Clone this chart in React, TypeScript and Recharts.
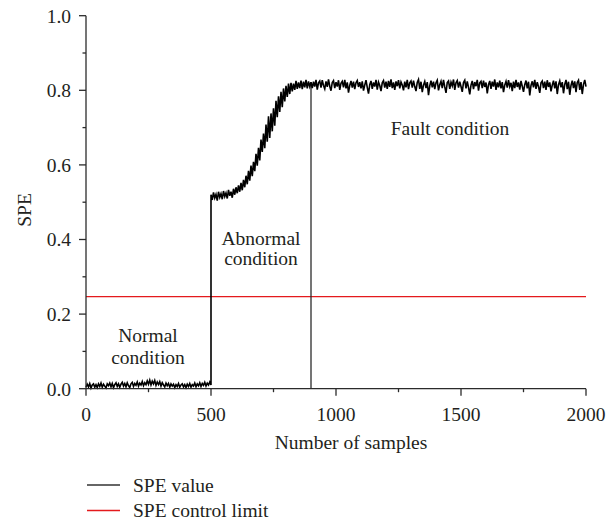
import { LineChart, Line, XAxis, YAxis, ReferenceLine, ReferenceDot } from "recharts";

// SPE readings every 5 samples
const normalSpe = [
  0.004, 0.012, 0.005, 0.014, 0.002, 0.010, 0.013, 0.004, 0.011, 0.003,
  0.013, 0.006, 0.015, 0.004, 0.012, 0.007, 0.002, 0.013, 0.008, 0.015,
  0.005, 0.014, 0.003, 0.011, 0.016, 0.006, 0.013, 0.004, 0.012, 0.017,
  0.007, 0.014, 0.005, 0.016, 0.008, 0.003, 0.013, 0.017, 0.006, 0.014,
  0.009, 0.018, 0.007, 0.015, 0.010, 0.019, 0.008, 0.016, 0.011, 0.021,
  0.012, 0.023, 0.010, 0.020, 0.013, 0.022, 0.009, 0.018, 0.011, 0.019,
  0.007, 0.016, 0.010, 0.005, 0.015, 0.008, 0.014, 0.004, 0.013, 0.007,
  0.012, 0.003, 0.011, 0.006, 0.014, 0.004, 0.010, 0.013, 0.005, 0.011,
  0.003, 0.012, 0.006, 0.014, 0.004, 0.011, 0.007, 0.015, 0.005, 0.013,
  0.008, 0.016, 0.006, 0.014, 0.009, 0.017, 0.007, 0.015, 0.010, 0.018,
  0.010,
]; // samples 0..500
const abnormalSpe = [
  0.52, 0.506, 0.526, 0.511, 0.521, 0.504, 0.528, 0.513, 0.523, 0.508,
  0.53, 0.515, 0.525, 0.51, 0.533, 0.517, 0.528, 0.512, 0.536, 0.52,
  0.54, 0.524, 0.545, 0.528, 0.552, 0.532, 0.56, 0.54, 0.571, 0.548,
  0.584, 0.558, 0.598, 0.57, 0.608, 0.583, 0.63, 0.598, 0.646, 0.612,
  0.668, 0.635, 0.684, 0.645, 0.708, 0.662, 0.73, 0.672, 0.738, 0.69,
  0.752, 0.705, 0.772, 0.728, 0.784, 0.742, 0.796, 0.755, 0.805, 0.77,
  0.812, 0.782, 0.818, 0.79, 0.82, 0.797, 0.818, 0.801, 0.825, 0.804,
  0.821, 0.806, 0.826, 0.803, 0.823, 0.808, 0.828, 0.805, 0.824, 0.81,
  0.822,
]; // samples 500..900
const faultSpe = [
  0.806, 0.823, 0.81, 0.828, 0.802, 0.82, 0.825, 0.807, 0.827, 0.813,
  0.804, 0.824, 0.809, 0.829, 0.811, 0.799, 0.821, 0.826, 0.806, 0.822,
  0.81, 0.827, 0.801, 0.819, 0.824, 0.808, 0.828, 0.805, 0.821, 0.794,
  0.813, 0.825, 0.807, 0.823, 0.803, 0.82, 0.826, 0.809, 0.822, 0.805,
  0.824, 0.799, 0.814, 0.827, 0.808, 0.791, 0.815, 0.825, 0.804, 0.821,
  0.81, 0.828, 0.802, 0.822, 0.813, 0.798, 0.82, 0.826, 0.807, 0.823,
  0.804, 0.825, 0.809, 0.829, 0.806, 0.821, 0.801, 0.824, 0.811, 0.827,
  0.805, 0.822, 0.814, 0.8, 0.823, 0.808, 0.828, 0.803, 0.82, 0.825,
  0.807, 0.826, 0.81, 0.798, 0.821, 0.829, 0.804, 0.823, 0.795, 0.814,
  0.824, 0.806, 0.822, 0.787, 0.812, 0.826, 0.808, 0.823, 0.803, 0.82,
  0.827, 0.8, 0.815, 0.824, 0.806, 0.828, 0.809, 0.793, 0.821, 0.825,
  0.804, 0.822, 0.812, 0.829, 0.801, 0.82, 0.826, 0.807, 0.823, 0.81,
  0.796, 0.821, 0.827, 0.805, 0.824, 0.808, 0.789, 0.814, 0.825, 0.803,
  0.822, 0.811, 0.828, 0.799, 0.82, 0.824, 0.806, 0.826, 0.809, 0.821,
  0.792, 0.815, 0.825, 0.804, 0.823, 0.81, 0.829, 0.801, 0.821, 0.808,
  0.826, 0.805, 0.822, 0.795, 0.814, 0.824, 0.807, 0.827, 0.81, 0.82,
  0.798, 0.823, 0.806, 0.828, 0.809, 0.821, 0.802, 0.825, 0.811, 0.796,
  0.815, 0.826, 0.805, 0.823, 0.786, 0.813, 0.824, 0.808, 0.828, 0.804,
  0.822, 0.81, 0.793, 0.82, 0.825, 0.806, 0.823, 0.801, 0.827, 0.809,
  0.821, 0.797, 0.814, 0.826, 0.805, 0.824, 0.79, 0.815, 0.825, 0.808,
  0.822, 0.792, 0.816, 0.828, 0.803, 0.823, 0.788, 0.813, 0.826, 0.806,
  0.824, 0.795, 0.821, 0.827, 0.801, 0.822, 0.79, 0.816, 0.828, 0.81,
]; // samples 905..2000
const sampleStep = 5;
const abnormalStart = 500;
const faultStart = 905;
const faultBoundary = 900;
const controlLimit = 0.247;

const xTicks = [0, 250, 500, 750, 1000, 1250, 1500, 1750, 2000];
const yTicks = [0, 0.1, 0.2, 0.3, 0.4, 0.5, 0.6, 0.7, 0.8, 0.9, 1.0];

const notes = [
  { x: 248, y: 0.124, lines: ["Normal", "condition"], gap: 22 },
  { x: 700, y: 0.385, lines: ["Abnormal", "condition"], gap: 20 },
  { x: 1456, y: 0.68, lines: ["Fault condition"], gap: 0 },
];

const data = [
  ...normalSpe.map((v, i) => ({ x: i * sampleStep, spe: v })),
  ...abnormalSpe.map((v, i) => ({ x: abnormalStart + i * sampleStep, spe: v })),
  ...faultSpe.map((v, i) => ({ x: faultStart + i * sampleStep, spe: v })),
];

const FONT = "'Liberation Serif', Tinos, 'Times New Roman', serif";
const FS = 19.5;
const INK = "#231f20";
const AXIS = "#2b2b2b";
const RED = "#e41a1c";

const XTick = (props: any) => {
  const { x, y, payload } = props;
  const major = payload.value % 500 === 0;
  return (
    <g>
      <line x1={x} y1={y} x2={x} y2={y + (major ? 7 : 3.5)} stroke={AXIS} strokeWidth={1.3} />
      {major && (
        <text x={x} y={y + 32} textAnchor="middle" fontFamily={FONT} fontSize={FS} fill={INK}>
          {payload.value}
        </text>
      )}
    </g>
  );
};

const YTick = (props: any) => {
  const { x, y, payload } = props;
  const major = Math.round(payload.value * 10) % 2 === 0;
  return (
    <g>
      <line x1={x} y1={y} x2={x - (major ? 7 : 3.5)} y2={y} stroke={AXIS} strokeWidth={1.3} />
      {major && (
        <text x={x - 15} y={y + 6.8} textAnchor="end" fontFamily={FONT} fontSize={FS} fill={INK}>
          {payload.value.toFixed(1)}
        </text>
      )}
    </g>
  );
};

const NoteLabel = (lines: string[], gap: number) => (props: any) => {
  const vb = props.viewBox || {};
  const cx = vb.x + (vb.width || 0) / 2;
  const cy = vb.y + (vb.height || 0) / 2;
  return (
    <text x={cx} y={cy} textAnchor="middle" fontFamily={FONT} fontSize={FS} fill={INK}>
      {lines.map((l, i) => (
        <tspan key={i} x={cx} y={cy + i * gap}>
          {l}
        </tspan>
      ))}
    </text>
  );
};

export default function App() {
  return (
    <div style={{ position: "absolute", left: 0, top: 0, width: 614, height: 522, background: "#fff" }}>
      <LineChart width={614} height={522} data={data} margin={{ top: 15.7, right: 28, bottom: 93.3, left: 0 }}>
        <XAxis
          dataKey="x"
          type="number"
          domain={[0, 2000]}
          ticks={xTicks}
          interval={0}
          tickSize={0}
          tickMargin={0}
          height={40}
          tickLine={false}
          axisLine={{ stroke: AXIS, strokeWidth: 1.3 }}
          tick={<XTick />}
        />
        <YAxis
          type="number"
          domain={[0, 1]}
          ticks={yTicks}
          interval={0}
          tickSize={0}
          tickMargin={0}
          width={86}
          tickLine={false}
          axisLine={{ stroke: AXIS, strokeWidth: 1.3 }}
          tick={<YTick />}
        />
        <ReferenceLine y={controlLimit} stroke={RED} strokeWidth={1.3} />
        <ReferenceLine
          segment={[
            { x: faultBoundary, y: 0 },
            { x: faultBoundary, y: abnormalSpe[abnormalSpe.length - 1] },
          ]}
          stroke={AXIS}
          strokeWidth={1.3}
        />
        <Line
          type="linear"
          dataKey="spe"
          stroke="#000"
          strokeWidth={1.6}
          dot={false}
          activeDot={false}
          isAnimationActive={false}
        />
        {notes.map((n, i) => (
          <ReferenceDot
            key={i}
            x={n.x}
            y={n.y}
            r={0}
            fill="none"
            stroke="none"
            label={NoteLabel(n.lines, n.gap)}
          />
        ))}
      </LineChart>
      <svg width={614} height={522} style={{ position: "absolute", left: 0, top: 0, pointerEvents: "none" }}>
        <text
          x={31}
          y={210}
          transform="rotate(-90 31 210)"
          textAnchor="middle"
          fontFamily={FONT}
          fontSize={FS}
          fill={INK}
        >
          SPE
        </text>
        <text x={351} y={449} textAnchor="middle" fontFamily={FONT} fontSize={FS} fill={INK}>
          Number of samples
        </text>
        <line x1={87} y1={485} x2={120} y2={485} stroke="#333" strokeWidth={1.3} />
        <text x={133} y={491.5} fontFamily={FONT} fontSize={FS} fill={INK}>
          SPE value
        </text>
        <line x1={87} y1={510.5} x2={120} y2={510.5} stroke={RED} strokeWidth={1.3} />
        <text x={133} y={516.5} fontFamily={FONT} fontSize={FS} fill={INK}>
          SPE control limit
        </text>
      </svg>
    </div>
  );
}
